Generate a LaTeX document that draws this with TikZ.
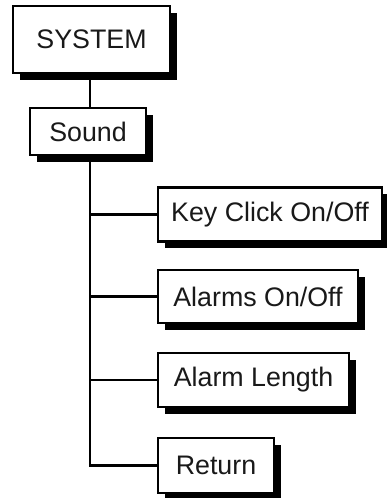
\documentclass[tikz,border=0pt]{standalone}
\usepackage{fontspec}
\setmainfont{Liberation Sans}
\begin{document}
\begin{tikzpicture}[x=1pt,y=-1pt,
  menubox/.style={draw=black, line width=2.2pt, fill=white, rectangle, inner sep=0pt,
    font=\fontsize{26.8}{32}\selectfont, text=black!90,
    preaction={draw=none, fill=black, transform canvas={shift={(6.5pt,-6.5pt)}}}},
  link/.style={line width=2.2pt, draw=black}]
\useasboundingbox (0,0) rectangle (386,498);
\node[menubox, minimum width=157pt, minimum height=67pt] (sys) at (91.5,39.5) {SYSTEM};
\node[menubox, minimum width=116pt, minimum height=47pt] (snd) at (88,131.5) {Sound};
\node[menubox, minimum width=224pt, minimum height=54pt] (key) at (270,214.5) {Key Click On/Off};
\node[menubox, minimum width=200pt, minimum height=53pt] (alm) at (258,296.5) {Alarms On/Off};
\node[menubox, minimum width=191pt, minimum height=54pt] (len) at (253.5,380) {Alarm Length};
\node[menubox, minimum width=116pt, minimum height=55pt] (ret) at (216,465.5) {Return};
\coordinate (trunk) at (90,0);
\draw[link] (sys.south -| trunk) -- (snd.north -| trunk);
\draw[link] (snd.south -| trunk) -- (ret.west -| trunk) -- (ret.west);
\draw[link] (key.west -| trunk) -- (key.west);
\draw[link] (alm.west -| trunk) -- (alm.west);
\draw[link] (len.west -| trunk) -- (len.west);
\end{tikzpicture}
\end{document}
